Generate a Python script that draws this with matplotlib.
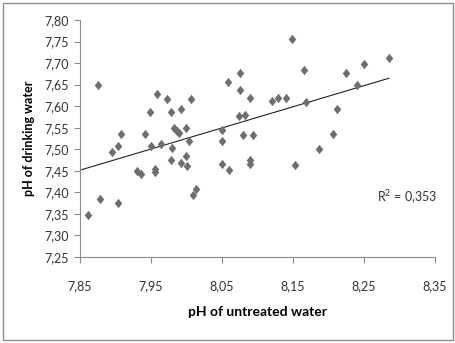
import numpy as np
import matplotlib
matplotlib.use("Agg")
import matplotlib.pyplot as plt
from matplotlib.patches import Rectangle

untreated_ph = [7.861, 7.875, 7.878, 7.895, 7.903, 7.903, 7.908, 7.930, 7.936, 7.942,
                7.949, 7.950, 7.955, 7.956, 7.958, 7.964, 7.972, 7.978, 7.980, 7.978,
                7.983, 7.987, 7.989, 7.992, 7.992, 7.999, 7.999, 8.000, 8.004, 8.007,
                8.009, 8.013, 8.050, 8.050, 8.050, 8.059, 8.060, 8.075, 8.075, 8.074,
                8.083, 8.080, 8.090, 8.090, 8.090, 8.094, 8.120, 8.129, 8.140, 8.149,
                8.165, 8.169, 8.153, 8.187, 8.207, 8.212, 8.224, 8.240, 8.250, 8.285]
drinking_ph = [7.347, 7.650, 7.385, 7.494, 7.508, 7.375, 7.535, 7.450, 7.443, 7.535,
               7.587, 7.508, 7.448, 7.455, 7.628, 7.512, 7.617, 7.587, 7.503, 7.475,
               7.550, 7.542, 7.537, 7.593, 7.467, 7.549, 7.484, 7.462, 7.520, 7.616,
               7.394, 7.407, 7.545, 7.519, 7.465, 7.657, 7.453, 7.678, 7.638, 7.577,
               7.580, 7.533, 7.475, 7.465, 7.620, 7.533, 7.613, 7.618, 7.620, 7.756,
               7.684, 7.609, 7.463, 7.500, 7.535, 7.593, 7.678, 7.650, 7.698, 7.712]
x_ticks = [7.85, 7.95, 8.05, 8.15, 8.25, 8.35]
y_ticks = [7.25, 7.30, 7.35, 7.40, 7.45, 7.50, 7.55, 7.60, 7.65, 7.70, 7.75, 7.80]
r2_text = "R$^2$ = 0,353"

plt.rcParams['font.family'] = ['Lato', 'DejaVu Sans']
plt.rcParams['mathtext.fontset'] = 'custom'
plt.rcParams['mathtext.rm'] = 'Lato'

fig = plt.figure(figsize=(4.56, 3.43), dpi=100)
fig.patches.append(Rectangle((3/456, 3/343), 450/456, 337/343, transform=fig.transFigure,
                             fill=False, edgecolor='#8c8c8c', linewidth=1.0))
ax = fig.add_axes([80/456, 1-257/343, 355/456, 237/343])

x = np.array(untreated_ph)
y = np.array(drinking_ph)
diamond = [(0, 1), (0.8, 0), (0, -1), (-0.8, 0), (0, 1)]
ax.scatter(x, y, marker=diamond, s=46, color='#6e6e6e', linewidths=0, zorder=3)

slope, intercept = np.polyfit(x, y, 1)
xl = np.array([7.85, x.max()])
ax.plot(xl, slope*xl + intercept, color='#222222', linewidth=0.8, zorder=2)

ax.set_xlim(7.85, 8.35)
ax.set_ylim(7.25, 7.80)
ax.set_xticks(x_ticks)
ax.set_yticks(y_ticks)
ax.set_xticklabels([f"{v:.2f}".replace('.', ',') for v in x_ticks])
ax.set_yticklabels([f"{v:.2f}".replace('.', ',') for v in y_ticks])
for s in ['top', 'right']:
    ax.spines[s].set_visible(False)
for s in ['left', 'bottom']:
    ax.spines[s].set_color('#8c8c8c')
    ax.spines[s].set_linewidth(0.8)
ax.tick_params(direction='out', length=4, width=0.8, color='#8c8c8c',
               labelsize=9, labelcolor='#333333', pad=4)
ax.tick_params(axis='x', pad=13)

ax.set_xlabel("pH of untreated water", fontsize=10, fontweight='bold', labelpad=10)
ax.set_ylabel("pH of drinking water", fontsize=9, fontweight='bold', labelpad=7)
ax.text(8.268, 7.389, r2_text, fontsize=9, color='#333333', va='center', ha='left')

fig.savefig("out.png", dpi=100)
